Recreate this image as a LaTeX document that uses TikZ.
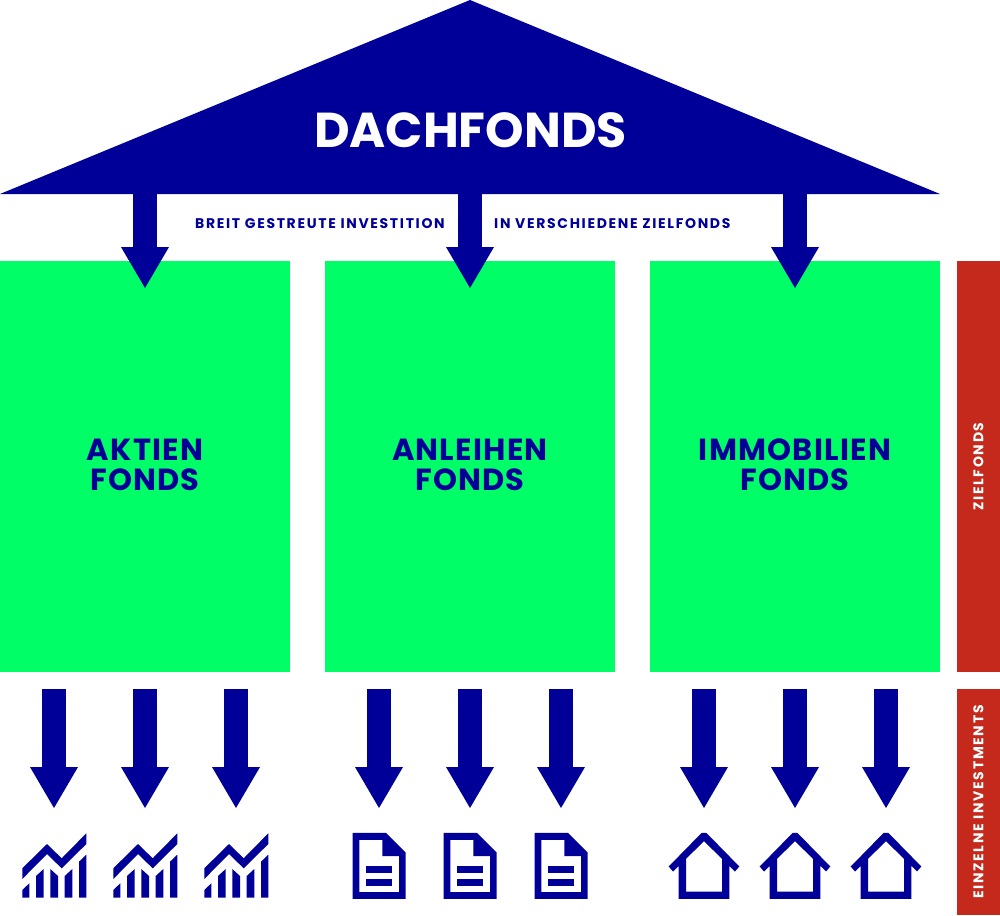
\documentclass[tikz,border=0pt]{standalone}
\usepackage{fontspec}
\usepackage{xcolor}
\usetikzlibrary{arrows.meta,positioning}
\setmainfont{Poppins}
\newfontfamily\widefont[LetterSpace=12]{Poppins}
\newfontfamily\fundfont[LetterSpace=4]{Poppins}
\definecolor{navy}{HTML}{000099}
\definecolor{fondsgreen}{HTML}{00FF66}
\definecolor{barred}{HTML}{C4291C}
\tikzset{
  fundbox/.style={fill=fondsgreen,minimum width=290pt,minimum height=411pt,inner sep=0pt,align=center,
    text=navy,font=\fontsize{30.5}{30}\selectfont\fundfont\bfseries},
  sidebar/.style={fill=barred,minimum width=43pt,inner sep=0pt,text=white,
    font=\fontsize{14}{15}\selectfont\widefont\bfseries},
  bigarrow/.style={draw=navy,line width=24pt,-{Triangle[width=48pt,length=41pt,line width=0pt]}},
  subtext/.style={text=navy,inner sep=0pt,font=\fontsize{14}{15}\selectfont\widefont\bfseries},
  pics/chartico/.style={code={
    \fill[navy] (-31.7,2.8) -- (-7,-21.5) -- (7.7,-7.2) -- (32.3,-32.2) -- (32.3,-21.5) -- (7.7,2.8) -- (-7,-11.5) -- (-31.7,13.5) -- cycle;
    \fill[navy] (-31.7,32) -- (-31.7,24.5) -- (-24.7,17.8) -- (-24.7,32) -- cycle;
    \fill[navy] (-18,32) -- (-18,10.5) -- (-10.3,3.5) -- (-10.3,32) -- cycle;
    \fill[navy] (-3.7,32) -- (-3.7,3.5) -- (4,10.5) -- (4,32) -- cycle;
    \fill[navy] (10.7,32) -- (10.7,10.5) -- (18.3,3.5) -- (18.3,32) -- cycle;
    \fill[navy] (25,32) -- (25,-3.8) -- (32.3,-10.8) -- (32.3,32) -- cycle;
  }},
  pics/docico/.style={code={
    \fill[navy,even odd rule] (-26.3,-32.7) -- (7,-32.7) -- (26.7,-13) -- (26.7,33.3) -- (-26.3,33.3) -- cycle
      (-19.7,-25.7) -- (3.3,-25.7) -- (3.3,-9.3) -- (20,-9.3) -- (20,26.7) -- (-19.7,26.7) -- cycle;
    \fill[navy] (-13.3,0.3) rectangle (13.3,7);
    \fill[navy] (-13.3,13.7) rectangle (13.3,20.3);
  }},
  pics/houseico/.style={code={
    \fill[navy,even odd rule] (-2.3,-32.7) -- (2.3,-32.7) -- (35.3,1) -- (31,6) -- (25.3,0.3) -- (25.3,33.3)
      -- (-25.3,33.3) -- (-25.3,0.3) -- (-31,6) -- (-35.3,1) -- cycle
      (0,-24.3) -- (18,-6.7) -- (18,26) -- (-18,26) -- (-18,-6.7) -- cycle;
  }}
}
\begin{document}
\begin{tikzpicture}[x=1pt,y=-1pt]
\useasboundingbox (0,0) rectangle (1000,915);
% roof
\coordinate (Apex) at (470,0);
\coordinate (RoofL) at (0,194);
\coordinate (RoofR) at (940,194);
\fill[navy] (Apex) -- (RoofR) -- (RoofL) -- cycle;
\node[text=white,inner sep=0pt,font=\fontsize{49}{50}\selectfont\bfseries](Dach) at (470.5,130.5) {DACHFONDS};
% target funds
\node[fundbox](Aktien) at (145,466) {AKTIEN\\FONDS\rule[-2pt]{0pt}{2pt}};
\node[fundbox](Anleihen) at (470,466) {ANLEIHEN\\FONDS\rule[-2pt]{0pt}{2pt}};
\node[fundbox](Immo) at (795,466) {IMMOBILIEN\\FONDS\rule[-2pt]{0pt}{2pt}};
\node[sidebar,minimum height=411pt](Ziel) at (978.5,466.5) {\rotatebox{90}{ZIELFONDS}};
\node[sidebar,minimum height=226pt](Einzeln) at (978.5,802) {\rotatebox{90}{EINZELNE INVESTMENTS}};
\node[subtext,anchor=west](Breit) at (195,223.7) {BREIT GESTREUTE INVESTITION};
\node[subtext,anchor=west](Verschieden) at (494,223.7) {IN VERSCHIEDENE ZIELFONDS};
% arrows from the roof
\coordinate (T1) at (145,288);
\coordinate (T2) at (470,288);
\coordinate (T3) at (795,288);
\draw[bigarrow] (T1 |- RoofL) -- (T1);
\draw[bigarrow] (T2 |- RoofL) -- (T2);
\draw[bigarrow] (T3 |- RoofL) -- (T3);
% single investments
\coordinate (B1) at (54,865.5);
\coordinate (B2) at (145,865.5);
\coordinate (B3) at (236,865.5);
\coordinate (B4) at (379,865.5);
\coordinate (B5) at (470,865.5);
\coordinate (B6) at (561,865.5);
\coordinate (B7) at (704,865.5);
\coordinate (B8) at (795,865.5);
\coordinate (B9) at (886,865.5);
\foreach \n in {1,...,9}
  \draw[bigarrow] ([yshift=176.5pt]B\n) -- ([yshift=57.5pt]B\n);
\pic at (B1) {chartico};
\pic at (B2) {chartico};
\pic at (B3) {chartico};
\pic at (B4) {docico};
\pic at (B5) {docico};
\pic at (B6) {docico};
\pic at (B7) {houseico};
\pic at (B8) {houseico};
\pic at (B9) {houseico};
\end{tikzpicture}
\end{document}
